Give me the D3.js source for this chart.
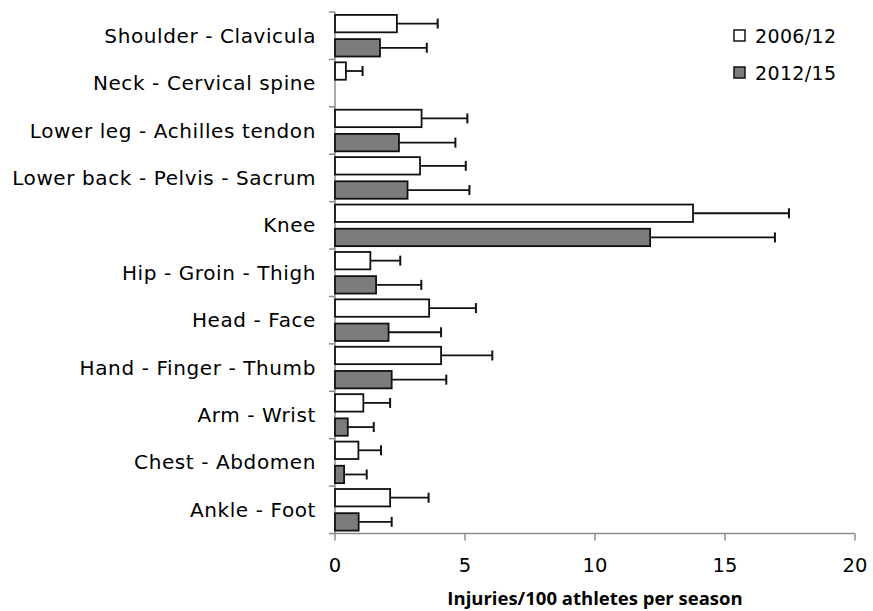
<!DOCTYPE html>
<html><head><meta charset="utf-8">
<script src="https://cdn.jsdelivr.net/npm/d3@7"></script>
<style>body{margin:0;background:#fff}svg{display:block}text{font-family:"DejaVu Sans",sans-serif;fill:#000}</style>
</head><body><svg id="c" width="873" height="611"></svg>
<script>
const categories = ["Shoulder - Clavicula","Neck - Cervical spine","Lower leg - Achilles tendon","Lower back - Pelvis - Sacrum","Knee","Hip - Groin - Thigh","Head - Face","Hand - Finger - Thumb","Arm - Wrist","Chest - Abdomen","Ankle - Foot"];
const seriesNames = ["2006/12","2012/15"];
const values0612 = [2.38,0.42,3.33,3.27,13.77,1.36,3.62,4.08,1.09,0.90,2.12];
const errors0612 = [1.57,0.64,1.76,1.76,3.69,1.15,1.80,1.97,1.03,0.87,1.48];
const values1215 = [1.73,0,2.46,2.79,12.12,1.58,2.06,2.18,0.49,0.35,0.91];
const errors1215 = [1.80,0,2.17,2.38,4.80,1.74,2.02,2.10,1.00,0.87,1.27];
const xTicks = [0,5,10,15,20];
const xTitle = "Injuries/100 athletes per season";

const svg = d3.select("#c");
const defs = svg.append("defs");
const pat = defs.append("pattern").attr("id","hatch").attr("width",2).attr("height",2).attr("patternUnits","userSpaceOnUse");
pat.append("rect").attr("width",2).attr("height",2).attr("fill","#848484");
pat.append("rect").attr("width",1).attr("height",1).attr("fill","#747474");
pat.append("rect").attr("x",1).attr("y",1).attr("width",1).attr("height",1).attr("fill","#747474");

const x = d3.scaleLinear().domain([0,20]).range([335,855]);
const y = d3.scaleBand().domain(categories).range([12,533.5]).paddingInner(0).paddingOuter(0);
const ys = d3.scaleBand().domain(seriesNames).range([0,y.bandwidth()]).paddingInner(0.28).paddingOuter(0.12);
const fills = {"2006/12":"#ffffff","2012/15":"url(#hatch)"};

const data = [];
categories.forEach((c,i)=>{
  data.push({cat:c,s:"2006/12",v:values0612[i],e:errors0612[i]});
  data.push({cat:c,s:"2012/15",v:values1215[i],e:errors1215[i]});
});

// Y axis
const axisColor = "#8c8c8c";
svg.append("line").attr("x1",x(0)).attr("x2",x(0)).attr("y1",y.range()[0]).attr("y2",y.range()[1]).attr("stroke",axisColor).attr("stroke-width",1.5);
const bounds = categories.map(c=>y(c)).concat([y.range()[1]]);
svg.selectAll(".yt").data(bounds).join("line").attr("x1",x(0)-6).attr("x2",x(0)).attr("y1",d=>d).attr("y2",d=>d).attr("stroke",axisColor).attr("stroke-width",1.5);
svg.selectAll(".yl").data(categories).join("text").attr("x",316).attr("y",d=>y(d)+y.bandwidth()/2).attr("dy","0.35em").attr("text-anchor","end").attr("font-size",20).attr("letter-spacing",0.6).text(d=>d);

// X axis
const axY = y.range()[1];
svg.append("line").attr("x1",x(0)).attr("x2",x(20)).attr("y1",axY).attr("y2",axY).attr("stroke",axisColor).attr("stroke-width",1.5);
svg.selectAll(".xt").data(xTicks).join("line").attr("x1",d=>x(d)).attr("x2",d=>x(d)).attr("y1",axY).attr("y2",axY+7).attr("stroke",axisColor).attr("stroke-width",1.5);
svg.selectAll(".xl").data(xTicks).join("text").attr("x",d=>x(d)).attr("y",572).attr("text-anchor","middle").attr("font-size",19.5).text(d=>d);
svg.append("text").attr("x",(x(0)+x(20))/2).attr("y",605).attr("text-anchor","middle").attr("font-size",18.5).attr("font-weight","bold").style("font-family","'Open Sans',sans-serif").text(xTitle);

// Bars
const shown = data.filter(d=>d.v>0);
svg.selectAll(".bar").data(shown).join("rect")
  .attr("x",x(0)).attr("y",d=>y(d.cat)+ys(d.s)).attr("width",d=>x(d.v)-x(0)).attr("height",ys.bandwidth())
  .attr("fill",d=>fills[d.s]).attr("stroke","#111").attr("stroke-width",1.8);
// Error bars
const eb = svg.selectAll(".eb").data(shown).join("g");
eb.append("line").attr("x1",d=>x(d.v)).attr("x2",d=>x(d.v+d.e)).attr("y1",d=>y(d.cat)+ys(d.s)+ys.bandwidth()/2).attr("y2",d=>y(d.cat)+ys(d.s)+ys.bandwidth()/2).attr("stroke","#111").attr("stroke-width",1.8);
eb.append("line").attr("x1",d=>x(d.v+d.e)).attr("x2",d=>x(d.v+d.e)).attr("y1",d=>y(d.cat)+ys(d.s)+ys.bandwidth()/2-5).attr("y2",d=>y(d.cat)+ys(d.s)+ys.bandwidth()/2+5).attr("stroke","#111").attr("stroke-width",2);

// Legend
const lg = svg.selectAll(".lg").data(seriesNames).join("g").attr("transform",(d,i)=>`translate(734,${30+i*37})`);
lg.append("rect").attr("width",11).attr("height",11).attr("fill",d=>fills[d]).attr("stroke","#111").attr("stroke-width",1.5);
lg.append("text").attr("x",21).attr("y",6).attr("dy","0.35em").attr("font-size",19).attr("letter-spacing",0.35).text(d=>d);
</script></body></html>
